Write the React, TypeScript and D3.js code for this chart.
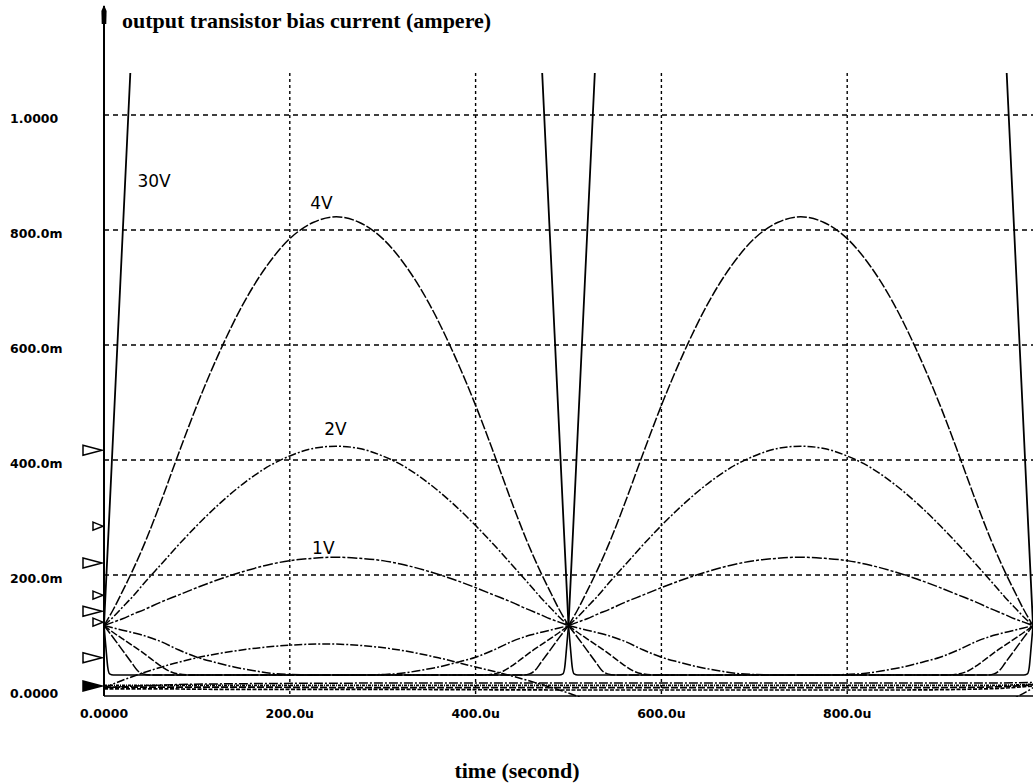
import React from "react";
import * as d3 from "d3";

// ---------- data (time in microseconds, current in ampere) ----------
const xTickValues = [0, 200, 400, 600, 800];
const xTickLabels = ["0.0000", "200.0u", "400.0u", "600.0u", "800.0u"];
const yTickValues = [0, 0.2, 0.4, 0.6, 0.8, 1.0];
const yTickLabels = ["0.0000", "200.0m", "400.0m", "600.0m", "800.0m", "1.0000"];

// one half cycle (the waveform repeats every 500u)
const halfCycleStarts = [0, 500];
const halfT = [0, 10, 20, 30, 45, 60, 80, 100, 125, 150, 175, 200, 225, 250, 275, 300, 325, 350, 375, 400, 420, 440, 455, 470, 480, 490, 500];
const i4V = [0.112, 0.14, 0.172, 0.205, 0.26, 0.322, 0.41, 0.495, 0.59, 0.672, 0.737, 0.785, 0.813, 0.823, 0.813, 0.785, 0.737, 0.672, 0.59, 0.495, 0.41, 0.322, 0.26, 0.205, 0.172, 0.14, 0.112];
const i2V = [0.112, 0.127, 0.144, 0.161, 0.189, 0.216, 0.252, 0.286, 0.325, 0.359, 0.387, 0.407, 0.42, 0.424, 0.42, 0.407, 0.387, 0.359, 0.325, 0.286, 0.252, 0.216, 0.189, 0.161, 0.144, 0.127, 0.112];
const i1V = [0.112, 0.118, 0.124, 0.131, 0.141, 0.152, 0.165, 0.178, 0.193, 0.206, 0.217, 0.225, 0.229, 0.231, 0.229, 0.225, 0.217, 0.206, 0.193, 0.178, 0.165, 0.152, 0.141, 0.131, 0.124, 0.118, 0.112];

const t30V = [0, 5, 10, 15, 20, 25, 30, 40, 60, 100, 150, 200, 250, 300, 350, 400, 440, 460, 470, 475, 480, 485, 490, 495, 500];
const i30V = [0.112, 0.28, 0.45, 0.62, 0.79, 0.96, 1.13, 1.45, 2.05, 3.0, 4.0, 4.6, 4.8, 4.6, 4.0, 3.0, 2.05, 1.45, 1.13, 0.96, 0.79, 0.62, 0.45, 0.28, 0.112];

// complementary (falling) currents, one half cycle
const tLow30V = [0, 2, 4, 6, 10, 490, 494, 496, 498, 500];
const iLow30V = [0.112, 0.075, 0.04, 0.028, 0.026, 0.026, 0.028, 0.04, 0.075, 0.112];
const tLow4V = [0, 10, 20, 30, 36, 42, 50, 450, 458, 464, 470, 480, 490, 500];
const iLow4V = [0.112, 0.091, 0.069, 0.047, 0.034, 0.028, 0.026, 0.026, 0.028, 0.034, 0.047, 0.069, 0.091, 0.112];
const tLow2V = [0, 10, 20, 30, 40, 50, 60, 70, 80, 95, 405, 420, 430, 440, 450, 460, 470, 480, 490, 500];
const iLow2V = [0.112, 0.1, 0.089, 0.078, 0.067, 0.055, 0.043, 0.033, 0.028, 0.026, 0.026, 0.028, 0.033, 0.043, 0.055, 0.067, 0.078, 0.089, 0.1, 0.112];
const tLow1V = [0, 20, 40, 60, 80, 100, 120, 140, 160, 180, 200, 225, 275, 300, 320, 340, 360, 380, 400, 420, 440, 460, 480, 500];
const iLow1V = [0.112, 0.104, 0.096, 0.085, 0.07, 0.057, 0.048, 0.04, 0.034, 0.029, 0.027, 0.026, 0.026, 0.027, 0.029, 0.034, 0.04, 0.048, 0.057, 0.07, 0.085, 0.096, 0.104, 0.112];

// full-period traces near zero
const tHump = [0, 25, 50, 75, 100, 150, 200, 240, 280, 320, 360, 400, 440, 470, 490, 510, 540, 600, 750, 900, 960, 985, 1000];
const iHump = [0.004, 0.02, 0.034, 0.046, 0.056, 0.07, 0.078, 0.08, 0.077, 0.069, 0.056, 0.04, 0.024, 0.01, 0.0, -0.011, -0.03, -0.06, -0.08, -0.05, -0.025, -0.01, 0.004];
const tFlat = [0, 50, 150, 300, 500, 700, 850, 950, 1000];
const iFlatA = [0.004, 0.008, 0.011, 0.012, 0.012, 0.012, 0.012, 0.012, 0.013];
const iFlatB = [0.008, 0.008, 0.008, 0.008, 0.008, 0.008, 0.008, 0.008, 0.01];
const iFlatC = [0.005, 0.005, 0.005, 0.004, 0.004, 0.004, 0.004, 0.005, 0.009];
const iFlatD = [0.002, 0.002, 0.001, 0.001, 0.0, 0.0, 0.0, 0.002, 0.007];

// trace start markers on the left of the axis
const markerLevels = [0.417, 0.285, 0.221, 0.165, 0.137, 0.118, 0.056, 0.007];
const markerBig = [true, false, true, false, true, false, true, true];
const markerFilled = [false, false, false, false, false, false, false, true];

// hand written annotations
const noteTexts = ["30V", "4V", "2V", "1V"];
const noteT = [36, 222, 237, 224];
const noteI = [0.875, 0.837, 0.443, 0.236];

// ---------- chart ----------
const W = 1033;
const H = 784;
const x = d3.scaleLinear().domain([0, 1000]).range([104, 1033]);
const y = d3.scaleLinear().domain([0, 1]).range([690, 115]);
const plotTop = 73;
const plotBottom = 696;

type Trace = { t: number[]; v: number[]; dash: string; w: number; repeat: boolean };

const traces: Trace[] = [
  { t: tFlat, v: iFlatD, dash: "4,1.5", w: 1.7, repeat: false },
  { t: tFlat, v: iFlatC, dash: "7,2", w: 1.7, repeat: false },
  { t: tFlat, v: iFlatB, dash: "3,1,1,1", w: 1.7, repeat: false },
  { t: tFlat, v: iFlatA, dash: "9,2,2,2", w: 1.5, repeat: false },
  { t: tHump, v: iHump, dash: "8,2,2,2", w: 1.5, repeat: false },
  { t: tLow1V, v: iLow1V, dash: "9,2,2,2", w: 1.5, repeat: true },
  { t: tLow2V, v: iLow2V, dash: "7,2", w: 1.5, repeat: true },
  { t: tLow4V, v: iLow4V, dash: "10,2", w: 1.5, repeat: true },
  { t: tLow30V, v: iLow30V, dash: "none", w: 1.6, repeat: true },
  { t: halfT, v: i1V, dash: "10,2,3,2", w: 1.5, repeat: true },
  { t: halfT, v: i2V, dash: "8,2,2,2", w: 1.5, repeat: true },
  { t: halfT, v: i4V, dash: "10,2", w: 1.5, repeat: true },
  { t: t30V, v: i30V, dash: "none", w: 1.8, repeat: true },
];

const line = d3
  .line<[number, number]>()
  .x((d) => x(d[0]))
  .y((d) => y(d[1]))
  .curve(d3.curveMonotoneX);

function tracePaths(tr: Trace): string[] {
  const starts = tr.repeat ? halfCycleStarts : [0];
  return starts.map((s) => line(tr.t.map((t, i) => [t + s, tr.v[i]] as [number, number])) || "");
}

export default function App() {
  const tickFont = "'DejaVu Sans', sans-serif";
  const titleFont = "'Liberation Serif', 'Times New Roman', serif";
  return (
    <div style={{ position: "absolute", left: 0, top: 0 }}>
      <svg width={W} height={H} style={{ display: "block", background: "#fff" }}>
        <defs>
          <clipPath id="plot">
            <rect x={x(0)} y={plotTop} width={x(1000) - x(0) + 2} height={plotBottom - plotTop + 1} />
          </clipPath>
        </defs>
        <rect x={0} y={0} width={W} height={H} fill="#fff" />

        {/* horizontal grid */}
        {yTickValues.slice(1).map((v) => (
          <line key={"hg" + v} x1={x(0)} x2={x(1000)} y1={y(v)} y2={y(v)} stroke="#000" strokeWidth={1.4} strokeDasharray="5,4" />
        ))}
        {/* vertical grid */}
        {xTickValues.slice(1).map((v) => (
          <line key={"vg" + v} x1={x(v)} x2={x(v)} y1={plotTop} y2={plotBottom} stroke="#000" strokeWidth={1.4} strokeDasharray="3,3" />
        ))}

        {/* traces */}
        <g clipPath="url(#plot)" fill="none" stroke="#000" strokeLinejoin="round">
          {traces.map((tr, k) =>
            tracePaths(tr).map((d, j) => (
              <path key={k + "-" + j} d={d} strokeWidth={tr.w} strokeDasharray={tr.dash === "none" ? undefined : tr.dash} />
            ))
          )}
        </g>

        {/* axes */}
        <line x1={x(0)} x2={x(1000)} y1={plotBottom} y2={plotBottom} stroke="#000" strokeWidth={1.6} />
        <line x1={x(0)} x2={x(0)} y1={6} y2={plotBottom} stroke="#000" strokeWidth={2} />
        <path d={`M${x(0)},5 L${x(0) + 2.6},11 L${x(0) + 2.3},24 L${x(0) - 2.3},24 L${x(0) - 2.6},11 Z`} fill="#000" />

        {/* markers */}
        {markerLevels.map((v, i) => {
          const cy = y(v);
          const big = markerBig[i];
          const x1 = big ? 83 : 93;
          const x2 = big ? 102 : 103;
          const h = big ? 5 : 4;
          return (
            <path
              key={"m" + i}
              d={`M${x1},${cy - h} L${x2},${cy} L${x1},${cy + h} Z`}
              fill={markerFilled[i] ? "#000" : "#fff"}
              stroke="#000"
              strokeWidth={1.5}
            />
          );
        })}

        {/* tick labels */}
        {yTickValues.map((v, i) => (
          <text key={"yl" + v} x={10} y={y(v) + 8} fontFamily={tickFont} fontWeight="bold" fontSize={12.5} fill="#000">
            {yTickLabels[i]}
          </text>
        ))}
        {xTickValues.map((v, i) => (
          <text key={"xl" + v} x={x(v)} y={718} textAnchor="middle" fontFamily={tickFont} fontWeight="bold" fontSize={12.5} fill="#000">
            {xTickLabels[i]}
          </text>
        ))}

        {/* titles */}
        <text x={122} y={28} fontFamily={titleFont} fontWeight="bold" fontSize={22} fill="#000">
          output transistor bias current (ampere)
        </text>
        <text x={517} y={778} textAnchor="middle" fontFamily={titleFont} fontWeight="bold" fontSize={22} fill="#000">
          time (second)
        </text>

        {/* annotations */}
        {noteTexts.map((s, i) => (
          <text key={"n" + i} x={x(noteT[i])} y={y(noteI[i])} fontFamily={tickFont} fontSize={17} fill="#000">
            {s}
          </text>
        ))}
      </svg>
    </div>
  );
}
